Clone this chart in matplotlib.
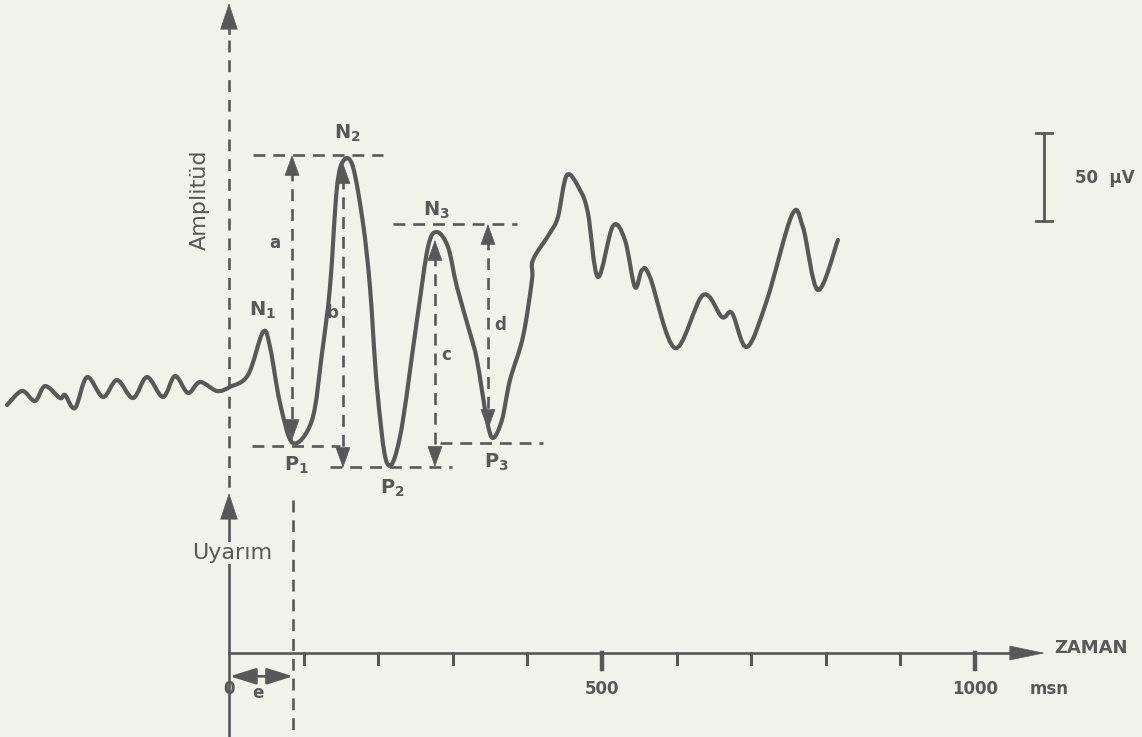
import matplotlib.pyplot as plt
from matplotlib.path import Path
from matplotlib.patches import PathPatch
import numpy as np

# waveform: time (ms) vs amplitude (uV), negative peaks drawn upward
t_ms = [-297.6, -277.5, -260.1, -246.6, -226.5, -219.8, -206.4, -190.3, -168.9, -150.1,
        -128.7, -109.9, -88.5, -72.4, -55.0, -38.9, -16.1, 1.3, 25.5, 45.6,
        55.0, 68.4, 85.8, 111.3, 124.7, 135.4, 144.8, 154.2, 166.2, 179.6,
        189.0, 198.4, 211.8, 229.2, 252.0, 266.8, 278.8, 293.6, 305.6, 323.1,
        332.4, 345.8, 353.9, 365.9, 376.7, 394.1, 406.2, 407.5, 430.3, 441.0,
        453.1, 470.5, 481.2, 494.6, 514.7, 530.8, 544.2, 553.6, 564.3, 597.9,
        635.4, 660.9, 674.3, 694.4, 721.2, 754.7, 769.4, 789.5, 816.4]
amp_uv = [-11.4, -3.4, -9.1, -0.6, -7.4, -5.7, -13.1, 4.5, -6.8, 2.8,
          -7.4, 4.5, -6.8, 5.1, -4.5, 1.7, -3.4, -1.1, 5.7, 30.1,
          21.6, -10.2, -33.0, -19.9, 18.2, 55.7, 112.5, 127.8, 123.9, 92.0,
          55.7, -1.1, -44.3, -29.5, 36.9, 78.4, 86.9, 78.4, 55.7, 29.5,
          14.2, -19.9, -30.1, -19.9, 2.8, 27.3, 59.7, 71.0, 86.4, 95.5,
          119.3, 110.8, 97.7, 61.4, 90.3, 82.4, 55.7, 65.3, 61.4, 21.0,
          51.1, 38.6, 40.9, 21.6, 48.3, 96.6, 89.8, 54.0, 82.4]

# peak levels (uV) and measurement columns (ms)
peak_names = ["N1", "N2", "N3", "P1", "P2", "P3"]
level_N2, level_P1, level_P2, level_N3, level_P3 = 130.7, -34.7, -46.6, 91.5, -33.0
latency_e = 86
time_ticks = [100, 200, 300, 400, 500, 600, 700, 800, 900, 1000]
tick_labels = {0: "0", 500: "500", 1000: "1000"}

ink = "#585858"
bg = "#f1f3ea"

fig = plt.figure(figsize=(11.42, 7.37), dpi=100)
fig.patch.set_facecolor(bg)
ax = fig.add_axes([0, 0, 1, 1])
ax.set_facecolor(bg)
ax.set_xlim(-307, 1224)
ax.set_ylim(-200, 218.75)
ax.axis("off")

dash = dict(color=ink, lw=1.9, ls=(0, (4.5, 3)))


def head(x, y, dx, dy, size=0.7, width=0.25):
    ax.annotate("", xy=(x, y), xytext=(x - dx, y - dy),
                arrowprops=dict(arrowstyle=f"-|>,head_length={size},head_width={width}",
                                color=ink, lw=0.5, shrinkA=0, shrinkB=0, mutation_scale=20))


def measure(x, top, bottom):
    ax.plot([x, x], [top - 8, bottom + 8], **dash)
    head(x, top, 0, 10)
    head(x, bottom, 0, -10)


# waveform drawn as a smooth curve through the read points
pts = np.column_stack([t_ms, amp_uv])
ext = np.vstack([pts[0], pts, pts[-1]])
verts = [pts[0]]
codes = [Path.MOVETO]
for i in range(1, len(ext) - 2):
    p0, p1, p2, p3 = ext[i - 1], ext[i], ext[i + 1], ext[i + 2]
    verts += [p1 + (p2 - p0) / 6, p2 - (p3 - p1) / 6, p2]
    codes += [Path.CURVE4] * 3
ax.add_patch(PathPatch(Path(verts, codes), facecolor="none", edgecolor=ink, lw=3.0,
                       joinstyle="round", capstyle="round"))

# amplitude axis (dashed) with arrow
ax.plot([0, 0], [196, -58.5], **dash)
ax.plot([0, 0], [200, 212], color=ink, lw=1.9)
head(0, 217, 0, 10, size=0.9, width=0.3)

# stimulus arrow
ax.plot([0, 0], [-200, -66], color=ink, lw=1.9)
head(0, -61.4, 0, 10, size=0.9, width=0.3)
ax.text(4, -95.5, "Uyarım", color=ink, fontsize=16, ha="center", va="center",
        bbox=dict(facecolor=bg, edgecolor="none", pad=0.5))
ax.text(-38.9, 105, "Amplitüd", color=ink, fontsize=16, rotation=90, ha="center", va="center")

# latency line e
ax.plot([latency_e, latency_e], [-65.3, -200], **dash)

# reference lines at peaks
ax.plot([32.2, 206.4], [level_N2, level_N2], **dash)
ax.plot([30.8, 148.8], [level_P1, level_P1], **dash)
ax.plot([135.4, 298.9], [level_P2, level_P2], **dash)
ax.plot([219.8, 386.1], [level_N3, level_N3], **dash)
ax.plot([282.8, 420.9], [level_P3, level_P3], **dash)

# measurement arrows a-d
measure(84.5, level_N2, -31.3)
measure(152.8, 126.1, -47.2)
measure(276.1, 82.4, -46.6)
measure(347.2, level_N3, -25.6)

lab = dict(color=ink, fontsize=12, fontweight="bold", ha="center", va="center")
ax.text(61.7, 80.7, "a", **lab)
ax.text(139.4, 40.9, "b", **lab)
ax.text(290.9, 17.0, "c", **lab)
ax.text(363.3, 34.1, "d", **lab)

peak_pos = [(45.6, 42.6), (158.2, 143.2), (278.8, 99.4), (91.2, -45.5), (218.5, -58.5), (359.2, -43.8)]
for name, (x, y) in zip(peak_names, peak_pos):
    ax.text(x, y, name[0] + r"$_\mathbf{" + name[1] + "}$", color=ink, fontsize=14,
            fontweight="bold", ha="center", va="center")

# time axis
axis_y = -152.3
ax.plot([0, 1070], [axis_y, axis_y], color=ink, lw=1.9)
head(1093.8, axis_y, 30, 0, size=1.2, width=0.25)
for tk in time_ticks:
    big = tk in (500, 1000)
    ax.plot([tk, tk], [axis_y, axis_y - (9 if big else 6.5)], color=ink, lw=3.2 if big else 2.2)
for tk, s in tick_labels.items():
    ax.text(tk, -172.5, s, color=ink, fontsize=12, fontweight="bold", ha="center", va="center")
ax.text(1073.7, -172.5, "msn", color=ink, fontsize=12, fontweight="bold", ha="left", va="center")
ax.text(1107, -149.4, "ZAMAN", color=ink, fontsize=13, fontweight="bold", ha="left", va="center")

# e span
ax.annotate("", xy=(1, -165.5), xytext=(latency_e, -165.5),
            arrowprops=dict(arrowstyle="<|-|>,head_length=0.8,head_width=0.25", color=ink,
                            lw=1.9, shrinkA=0, shrinkB=0, mutation_scale=20))
ax.text(38.9, -175, "e", **lab)

# 50 uV scale bar
ax.plot([1092.5, 1092.5], [93.2, 143.2], color=ink, lw=2.0)
ax.plot([1081.8, 1103.2], [143.2, 143.2], color=ink, lw=2.0)
ax.plot([1081.8, 1103.2], [93.2, 93.2], color=ink, lw=2.0)
ax.text(1134, 117.6, "50  µV", color=ink, fontsize=12, fontweight="bold", ha="left", va="center")

plt.savefig("out.png", dpi=100, facecolor=fig.get_facecolor())
plt.close()
